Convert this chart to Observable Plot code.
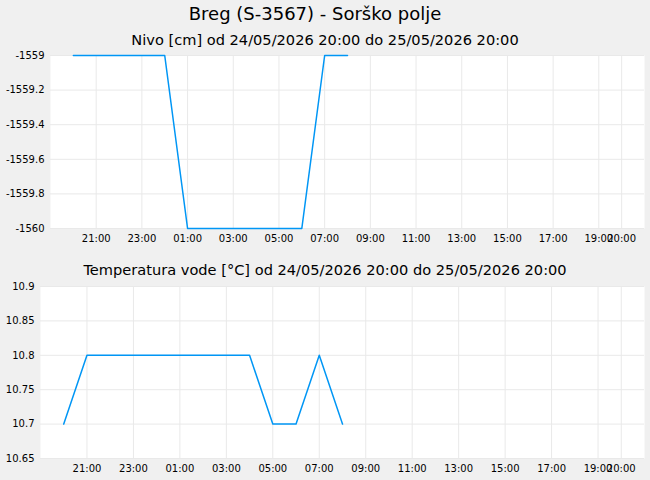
<!DOCTYPE html>
<html>
<head>
<meta charset="utf-8">
<script src="https://cdn.jsdelivr.net/npm/d3@7"></script>
<script src="https://cdn.jsdelivr.net/npm/@observablehq/plot@0.6"></script>
<style>
  html, body { margin: 0; padding: 0; background: #f0f0f0; }
  body { width: 650px; height: 480px; position: relative; overflow: hidden; font-family: "DejaVu Sans", sans-serif; color: #000; }
  .t { position: absolute; white-space: nowrap; transform: translateX(-50%); }
  #title { left: 315px; top: 3px; font-size: 18px; line-height: 22px; }
  #sub1 { left: 325px; top: 30px; font-size: 14.6px; line-height: 20px; }
  #sub2 { left: 325px; top: 260px; font-size: 14.6px; line-height: 20px; }
  #c1 { position: absolute; left: 0; top: 45px; }
  #c2 { position: absolute; left: 0; top: 280px; }
</style>
</head>
<body>
<div class="t" id="title"></div>
<div class="t" id="sub1"></div>
<div class="t" id="sub2"></div>
<div id="c1"></div>
<div id="c2"></div>
<script>
const titleText = "Breg (S-3567) - Sorško polje";
const nivoTitle = "Nivo [cm] od 24/05/2026 20:00 do 25/05/2026 20:00";
const tempTitle = "Temperatura vode [°C] od 24/05/2026 20:00 do 25/05/2026 20:00";

const times = ["2026-05-24T20:00Z","2026-05-24T21:00Z","2026-05-24T22:00Z","2026-05-24T23:00Z",
  "2026-05-25T00:00Z","2026-05-25T01:00Z","2026-05-25T02:00Z","2026-05-25T03:00Z",
  "2026-05-25T04:00Z","2026-05-25T05:00Z","2026-05-25T06:00Z","2026-05-25T07:00Z","2026-05-25T08:00Z"];
const nivo = [-1559,-1559,-1559,-1559,-1559,-1560,-1560,-1560,-1560,-1560,-1560,-1559,-1559];
const temp = [10.7,10.8,10.8,10.8,10.8,10.8,10.8,10.8,10.8,10.7,10.7,10.8,10.7];

const xDomain = ["2026-05-24T19:00Z","2026-05-25T21:00Z"];
const xTickTimes = ["2026-05-24T21:00Z","2026-05-24T23:00Z","2026-05-25T01:00Z","2026-05-25T03:00Z",
  "2026-05-25T05:00Z","2026-05-25T07:00Z","2026-05-25T09:00Z","2026-05-25T11:00Z","2026-05-25T13:00Z",
  "2026-05-25T15:00Z","2026-05-25T17:00Z","2026-05-25T19:00Z","2026-05-25T20:00Z"];
const nivoTicks = [-1559,-1559.2,-1559.4,-1559.6,-1559.8,-1560];
const tempTicks = [10.9,10.85,10.8,10.75,10.7,10.65];

document.getElementById("title").textContent = titleText;
document.getElementById("sub1").textContent = nivoTitle;
document.getElementById("sub2").textContent = tempTitle;

const parse = s => new Date(s);
const xd = xDomain.map(parse);
const xt = xTickTimes.map(parse);
const fmt = d3.utcFormat("%H:%M");
const lineColor = "#0096f5";
const gridColor = "#e9e9e9";

function chart(values, yTicks, yDomain, opts) {
  const data = times.map((t, i) => ({t: parse(t), v: values[i]}));
  return Plot.plot({
    width: 650,
    height: opts.height,
    marginTop: opts.mt,
    marginBottom: opts.mb,
    marginLeft: opts.ml,
    marginRight: 6,
    style: {background: "transparent", fontFamily: "DejaVu Sans", fontSize: "10px", color: "#000", overflow: "visible"},
    x: {type: "utc", domain: xd},
    y: {domain: yDomain},
    marks: [
      Plot.frame({fill: "white", stroke: null}),
      Plot.gridX(xt, {stroke: gridColor, strokeOpacity: 1}),
      Plot.gridY(yTicks, {stroke: gridColor, strokeOpacity: 1}),
      Plot.axisX(xt, {tickSize: 0, tickPadding: 6, tickFormat: fmt, label: null, fontSize: 10}),
      Plot.axisY(yTicks, {tickSize: 0, tickPadding: 6, tickFormat: d => String(d), label: null, fontSize: 10}),
      Plot.line(data, {x: "t", y: "v", stroke: lineColor, strokeWidth: 1.5, clip: false})
    ]
  });
}

document.getElementById("c1").appendChild(chart(nivo, nivoTicks, [-1560, -1559], {height: 205, mt: 10, mb: 22, ml: 50}));
document.getElementById("c2").appendChild(chart(temp, tempTicks, [10.65, 10.9], {height: 200, mt: 6, mb: 22, ml: 40}));
</script>
</body>
</html>
